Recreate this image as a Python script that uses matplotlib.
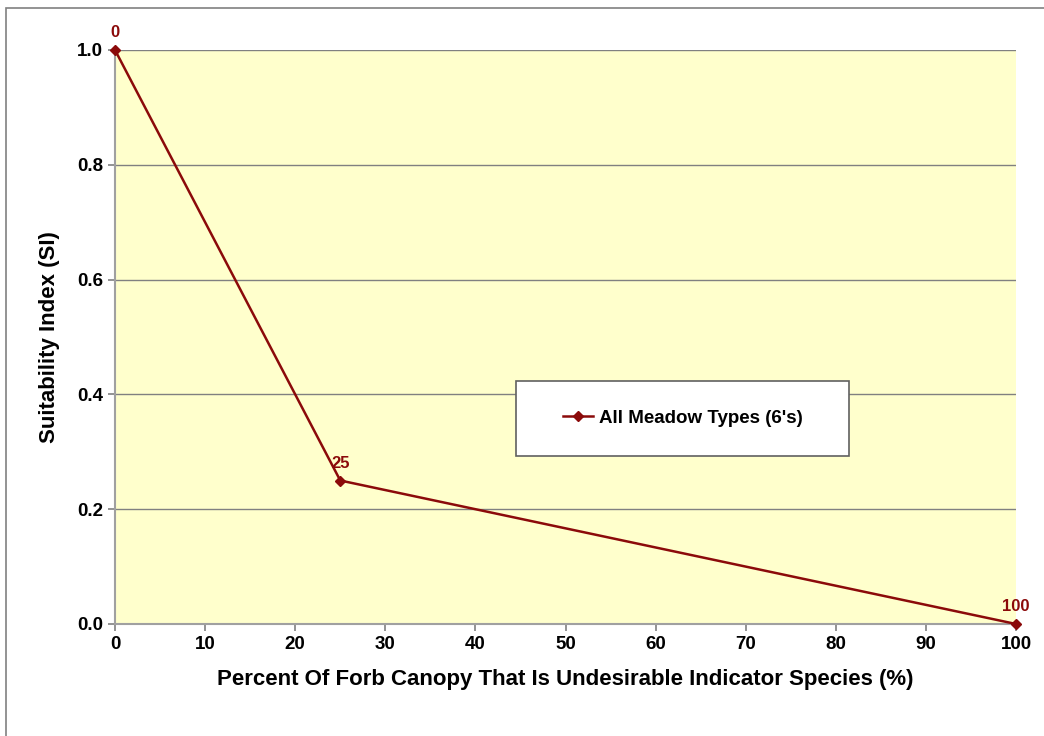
import numpy as np
import matplotlib
matplotlib.use("Agg")
import matplotlib.pyplot as plt
from matplotlib.patches import Rectangle

plt.rcParams['font.family'] = ['Liberation Sans', 'DejaVu Sans']

# data
pct = [0, 25, 100]
si = [1.0, 0.25, 0.0]
pt_labels = ["0", "25", "100"]

xticks = list(range(0, 101, 10))
yticks = [0.0, 0.2, 0.4, 0.6, 0.8, 1.0]

red = "#8B0A0A"

fig = plt.figure(figsize=(10.44, 7.36), dpi=100)
fig.patches.append(Rectangle((6 / 1044, -0.05), 1.1, 1 - 8 / 736 + 0.05,
                             transform=fig.transFigure, fill=False,
                             edgecolor="#808080", linewidth=1.2))

ax = fig.add_axes([115 / 1044, 1 - 624 / 736, 901 / 1044, 574 / 736])
ax.set_facecolor("#FFFFCC")
ax.plot(pct, si, color=red, linewidth=1.8, marker="D", markersize=5,
        label="All Meadow Types (6's)", clip_on=False, zorder=5)

for x, y, t in zip(pct, si, pt_labels):
    ax.annotate(t, (x, y), xytext=(0, 7), textcoords="offset points",
                ha="center", va="bottom", color=red, fontsize=12,
                fontweight="bold")

ax.set_xlim(0, 100)
ax.set_ylim(0, 1.0)
ax.set_xticks(xticks)
ax.set_yticks(yticks)
ax.set_yticklabels([f"{v:.1f}" for v in yticks])
ax.grid(axis="y", color="#808080", linewidth=1)
ax.set_axisbelow(True)
for s in ["top", "right"]:
    ax.spines[s].set_visible(False)
for s in ["left", "bottom"]:
    ax.spines[s].set_color("#A0A0A0")
    ax.spines[s].set_linewidth(1.5)
ax.tick_params(colors="#808080", labelcolor="black", labelsize=13.5,
               direction="out", length=5, width=1.2)
for lab in ax.get_xticklabels() + ax.get_yticklabels():
    lab.set_fontweight("bold")

ax.set_xlabel("Percent Of Forb Canopy That Is Undesirable Indicator Species (%)",
              fontsize=16, fontweight="bold", labelpad=12)
ax.set_ylabel("Suitability Index (SI)", fontsize=16, fontweight="bold",
              labelpad=12)

# legend box
box = (0.445, 0.293, 0.37, 0.131)
ax.add_patch(Rectangle(box[:2], box[2], box[3], transform=ax.transAxes,
                       facecolor="white", edgecolor="#606060", linewidth=1.2,
                       zorder=6))
leg = ax.legend(loc="center", bbox_to_anchor=box, frameon=False,
                prop={"weight": "bold", "size": 13.5}, handlelength=1.6,
                handletextpad=0.3, borderaxespad=0)
leg.set_zorder(7)

fig.savefig("out.png", dpi=100)
